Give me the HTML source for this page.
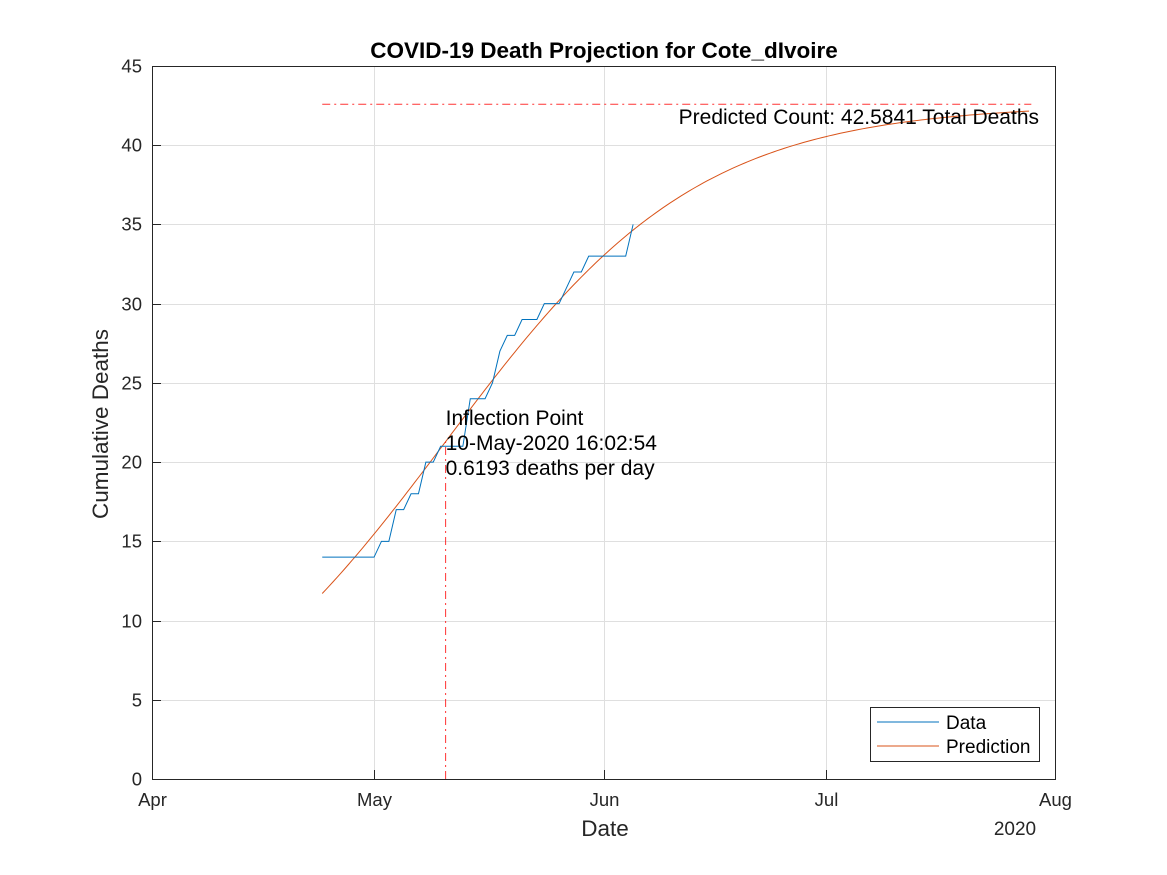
<!DOCTYPE html>
<html><head><meta charset="utf-8">
<style>
html,body{margin:0;padding:0;background:#fff;}
svg{display:block;font-family:"Liberation Sans",Arial,sans-serif;}
</style></head>
<body>
<svg id="chart" width="1167" height="875" viewBox="0 0 1167 875">
<rect x="0" y="0" width="1167" height="875" fill="#fff"/>
<rect x="152" y="66" width="903" height="713" fill="#fff"/>
<g id="grid"></g>
<g id="marks"></g>
<rect x="152.5" y="66.5" width="903" height="713" fill="none" stroke="#262626" stroke-width="1"/>
<g id="ticks"></g>
<text x="604" y="58" text-anchor="middle" font-size="22.5" font-weight="bold" fill="#000">COVID-19 Death Projection for Cote_dIvoire</text>
<text x="605" y="836" text-anchor="middle" font-size="22.5" fill="#262626">Date</text>
<text x="1015" y="835" text-anchor="middle" font-size="19" fill="#262626">2020</text>
<text transform="translate(108,424) rotate(-90)" text-anchor="middle" font-size="22.5" fill="#262626">Cumulative Deaths</text>
<g>
<rect x="870.5" y="707.5" width="169" height="54" fill="#fff" stroke="#262626" stroke-width="1"/>
<line x1="877" y1="722" x2="939" y2="722" stroke="#0072BD" stroke-width="1"/>
<text x="946" y="729" font-size="19" fill="#000">Data</text>
<line x1="877" y1="746" x2="939" y2="746" stroke="#D95319" stroke-width="1"/>
<text x="946" y="753" font-size="19" fill="#000">Prediction</text>
</g>
</svg>
<script>
// Data: days since 1 Apr 2020, cumulative deaths
const dataStartDay = 23;
const dataValues = [14,14,14,14,14,14,14,14,15,15,17,17,18,18,20,20,21,21,21,21,24,24,24,25,27,28,28,29,29,29,30,30,30,31,32,32,33,33,33,33,33,33,35];
// Logistic projection parameters
const predTotal = 42.5841;
const predInflectionDay = 39.6687;
const predPeakRate = 0.6193;
const predStartDay = 23;
const predEndDay = 118.8;
const xTickDays = [0,30,61,91,122];
const xTickLabels = ["Apr","May","Jun","Jul","Aug"];
const yTicks = [0,5,10,15,20,25,30,35,40,45];

const NS="http://www.w3.org/2000/svg";
const X0=152,X1=1055,Y0=779,Y1=66;
const xs=d=>X0+(d-0)/(122-0)*(X1-X0);
const ys=v=>Y0-(v-0)/(45-0)*(Y0-Y1);
function mk(tag,attrs,parent){const e=document.createElementNS(NS,tag);for(const k in attrs)e.setAttribute(k,attrs[k]);parent.appendChild(e);return e;}
const grid=document.getElementById('grid'),marks=document.getElementById('marks'),ticks=document.getElementById('ticks');

xTickDays.forEach((d,i)=>{
  const x=Math.round(xs(d))+0.5;
  if(i>0&&i<xTickDays.length-1){
    const g=mk('line',{x1:x,y1:Y1,x2:x,y2:Y0,stroke:'#dfdfdf','stroke-width':1},grid);
    
    
  }
  const t=mk('line',{x1:x,y1:Y0,x2:x,y2:Y0-9,stroke:'#262626'},ticks);
  
  
  const l=mk('text',{x:x,y:Y0+27,'text-anchor':'middle','font-size':18.5,fill:'#262626'},ticks);
  l.textContent=xTickLabels[i];
  
  
});
yTicks.forEach(v=>{
  const y=Math.round(ys(v))+0.5;
  if(v>0&&v<45){
    const g=mk('line',{x1:X0,y1:y,x2:X1,y2:y,stroke:'#dfdfdf','stroke-width':1},grid);
    
    
  }
  const t=mk('line',{x1:X0,y1:y,x2:X0+9,y2:y,stroke:'#262626'},ticks);
  
  
  const l=mk('text',{x:X0-10,y:y+6,'text-anchor':'end','font-size':18.5,fill:'#262626'},ticks);
  l.textContent=v;
  
  
});

const asy=mk('line',{x1:xs(predStartDay),y1:ys(predTotal),x2:xs(predEndDay),y2:ys(predTotal),stroke:'#FF0000','stroke-width':1,'stroke-dasharray':'8,4,2,4','opacity':0.8},marks);



const r=4*predPeakRate/predTotal;
const pred=d=>predTotal/(1+Math.exp(-r*(d-predInflectionDay)));
let pp=[];
for(let d=predStartDay;d<=predEndDay+1e-9;d+=0.5)pp.push(xs(d).toFixed(2)+','+ys(pred(d)).toFixed(2));
const pl=mk('polyline',{points:pp.join(' '),fill:'none',stroke:'#D95319','stroke-width':1},marks);



const vl=mk('line',{x1:xs(predInflectionDay),y1:Y0,x2:xs(predInflectionDay),y2:ys(pred(predInflectionDay)),stroke:'#FF0000','stroke-width':1,'stroke-dasharray':'8,4,2,4','opacity':0.8},marks);



const dp=dataValues.map((v,i)=>xs(dataStartDay+i).toFixed(2)+','+ys(v).toFixed(2));
const dl=mk('polyline',{points:dp.join(' '),fill:'none',stroke:'#0072BD','stroke-width':1},marks);



const ix=xs(predInflectionDay);
["Inflection Point","10-May-2020 16:02:54",predPeakRate+" deaths per day"].forEach((s,i)=>{
  const t=mk('text',{x:ix,y:425+i*25,'font-size':21,fill:'#000'},marks);
  t.textContent=s;
  
  
});
const pc=mk('text',{x:1039,y:124,'text-anchor':'end','font-size':21,fill:'#000'},marks);
pc.textContent="Predicted Count: "+predTotal+" Total Deaths";


</script>
</body></html>
